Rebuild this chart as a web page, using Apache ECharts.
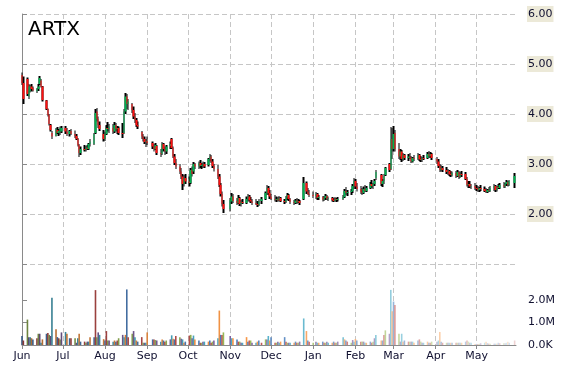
<!DOCTYPE html>
<html><head><meta charset="utf-8">
<script src="https://cdn.jsdelivr.net/npm/echarts@6.0.0/dist/echarts.min.js"></script>
<style>html,body{margin:0;padding:0;background:#fff}#c{width:570px;height:370px}</style>
</head><body><div id="c"></div>
<script>
const title = 'ARTX';
const monthLabels = ['Jun','Jul','Aug','Sep','Oct','Nov','Dec','Jan','Feb','Mar','Apr','May'];
const monthStarts = ['2012-06-01','2012-07-01','2012-08-01','2012-09-01','2012-10-01','2012-11-01','2012-12-01','2013-01-01','2013-02-01','2013-03-01','2013-04-01','2013-05-01'];
const priceLabels = [2,3,4,5,6];
const volumeLabels = [0,1000000,2000000];
// trading sessions: [year-month, days]
const sessionMonths = ['2012-05','2012-06','2012-07','2012-08','2012-09','2012-10','2012-11','2012-12','2013-01','2013-02','2013-03','2013-04','2013-05'];
const sessionDays = [
 [31],
 [1,4,5,6,7,8,11,12,13,14,15,18,19,20,21,22,25,26,27,28,29],
 [2,3,5,6,9,10,11,12,13,16,17,18,19,20,23,24,25,26,27,30,31],
 [1,2,3,6,7,8,9,10,13,14,15,16,17,20,21,22,23,24,27,28,29,30,31],
 [4,5,6,7,10,11,12,13,14,17,18,19,20,21,24,25,26,27,28],
 [1,2,3,4,5,8,9,10,11,12,15,16,17,18,19,22,23,24,25,26,31],
 [1,2,5,6,7,8,9,12,13,14,15,16,19,20,21,23,26,27,28,29,30],
 [3,4,5,6,7,10,11,12,13,14,17,18,19,20,21,24,26,27,28,31],
 [2,3,4,7,8,9,10,11,14,15,16,17,18,22,23,24,25,28,29,30,31],
 [1,4,5,6,7,8,11,12,13,14,15,19,20,21,22,25,26,27,28],
 [1,4,5,6,7,8,11,12,13,14,15,18,19,20,21,22,25,26,27,28],
 [1,2,3,4,5,8,9,10,11,12,15,16,17,18,19,22,23,24,25,26,29,30],
 [1,2,3,6,7,8,9,10,13,14,15,16,17,20,21,22,23,24,28]
];
const open = [
 4.78,4.62,4.70,4.35,4.45,4.55,4.52,4.45,4.50,4.60,4.67,4.55,4.27,4.10,3.98,3.78,3.62,3.56,3.68,3.62,3.65,3.65,
 3.72,3.65,3.60,3.66,3.60,3.56,3.50,3.38,3.22,3.30,3.28,3.33,3.30,3.40,3.40,3.62,4.05,3.90,3.78,3.60,3.50,
 3.60,3.72,3.70,3.72,3.65,3.78,3.70,3.72,3.62,3.62,4.05,4.35,4.20,4.20,4.08,3.95,3.88,3.78,3.64,3.55,3.50,3.44,3.46,
 3.42,3.35,3.30,3.36,3.22,3.20,3.40,3.30,3.25,3.36,3.50,3.32,3.15,3.02,2.95,2.85,2.75,2.60,2.72,
 2.65,2.62,2.88,2.85,3.00,2.95,3.02,2.96,2.98,3.00,2.98,3.10,3.15,3.05,2.96,2.90,2.75,2.58,2.40,2.20,2.10,
 2.25,2.35,2.26,2.22,2.32,2.20,2.24,2.22,2.30,2.35,2.28,2.25,2.22,2.20,2.18,2.26,2.30,2.42,2.52,2.42,2.35,
 2.30,2.28,2.30,2.27,2.32,2.26,2.24,2.33,2.38,2.30,2.24,2.22,2.27,2.24,2.26,2.30,2.62,2.45,2.40,2.38,
 2.36,2.40,2.32,2.34,2.28,2.32,2.36,2.30,2.32,2.28,2.26,2.30,2.28,2.30,2.34,2.46,2.42,2.44,2.46,2.56,2.66,
 2.55,2.50,2.44,2.42,2.50,2.46,2.52,2.60,2.56,2.60,2.72,2.78,2.60,2.66,2.78,3.00,2.90,3.50,3.30,
 3.62,3.30,3.15,3.25,3.10,3.18,3.12,3.15,3.12,3.05,3.12,3.10,3.18,3.10,3.08,3.12,3.12,3.20,3.16,3.20,
 3.10,3.05,2.96,2.88,2.92,2.88,2.84,2.86,2.80,2.78,2.82,2.76,2.84,2.74,2.80,2.80,2.70,2.58,2.60,2.55,2.56,2.52,
 2.50,2.48,2.52,2.50,2.46,2.44,2.48,2.46,2.52,2.56,2.48,2.54,2.52,2.58,2.55,2.60,2.64,2.58,2.62
];
const high = [
 4.83,4.75,4.73,4.60,4.58,4.60,4.55,4.52,4.60,4.76,4.70,4.56,4.28,4.11,4.00,3.80,3.66,3.72,3.74,3.70,3.75,3.76,
 3.76,3.72,3.68,3.70,3.67,3.60,3.52,3.40,3.35,3.38,3.36,3.38,3.42,3.50,3.62,4.10,4.12,3.95,3.85,3.68,3.65,
 3.78,3.84,3.80,3.80,3.84,3.82,3.76,3.75,3.82,4.10,4.42,4.40,4.30,4.22,4.15,4.02,3.92,3.85,3.66,3.60,3.55,3.50,3.55,
 3.45,3.40,3.42,3.38,3.30,3.44,3.42,3.35,3.38,3.45,3.52,3.35,3.20,3.10,3.00,2.92,2.80,2.78,2.80,
 2.75,2.92,2.95,3.04,3.02,3.05,3.08,3.02,3.05,3.04,3.12,3.20,3.18,3.10,3.00,2.98,2.80,2.62,2.45,2.28,2.32,
 2.42,2.40,2.32,2.38,2.34,2.28,2.30,2.35,2.40,2.38,2.34,2.30,2.30,2.26,2.30,2.34,2.45,2.58,2.56,2.48,2.40,
 2.38,2.35,2.34,2.36,2.34,2.30,2.36,2.42,2.40,2.32,2.28,2.30,2.32,2.30,2.28,2.74,2.65,2.52,2.48,2.45,
 2.44,2.42,2.38,2.36,2.36,2.40,2.38,2.35,2.34,2.32,2.34,2.32,2.34,2.38,2.50,2.54,2.48,2.50,2.60,2.72,2.70,
 2.62,2.56,2.52,2.55,2.58,2.56,2.64,2.68,2.62,2.70,2.88,2.80,2.70,2.80,2.94,3.02,3.74,3.72,3.76,
 3.68,3.42,3.30,3.28,3.22,3.20,3.20,3.22,3.16,3.14,3.18,3.22,3.20,3.16,3.14,3.18,3.24,3.26,3.24,3.22,
 3.14,3.10,3.00,2.98,2.96,2.94,2.90,2.88,2.86,2.85,2.86,2.88,2.86,2.84,2.86,2.84,2.74,2.66,2.66,2.60,2.62,2.58,
 2.56,2.54,2.58,2.55,2.52,2.50,2.54,2.56,2.60,2.58,2.56,2.60,2.62,2.64,2.62,2.68,2.66,2.68,2.82
];
const low = [
 4.58,4.20,4.36,4.30,4.43,4.45,4.45,4.42,4.46,4.58,4.53,4.25,4.08,3.95,3.77,3.65,3.50,3.55,3.60,3.56,3.58,3.62,
 3.60,3.56,3.55,3.58,3.52,3.48,3.35,3.14,3.18,3.25,3.25,3.28,3.28,3.35,3.38,3.60,3.85,3.72,3.66,3.45,3.46,
 3.58,3.65,3.62,3.60,3.62,3.65,3.60,3.58,3.52,3.60,4.00,4.10,4.08,4.02,3.90,3.82,3.74,3.70,3.50,3.45,3.40,3.34,3.38,
 3.30,3.25,3.28,3.18,3.14,3.18,3.25,3.18,3.20,3.30,3.30,3.12,2.98,2.90,2.80,2.70,2.48,2.55,2.60,
 2.55,2.60,2.75,2.80,2.90,2.90,2.92,2.90,2.92,2.92,2.95,3.05,3.02,2.92,2.85,2.70,2.54,2.35,2.15,2.02,2.05,
 2.20,2.22,2.18,2.20,2.16,2.15,2.20,2.20,2.25,2.25,2.22,2.18,2.18,2.14,2.16,2.20,2.28,2.38,2.38,2.30,2.28,
 2.25,2.24,2.25,2.25,2.24,2.20,2.22,2.28,2.26,2.20,2.18,2.20,2.20,2.22,2.18,2.28,2.40,2.38,2.34,2.32,
 2.30,2.28,2.28,2.25,2.26,2.28,2.28,2.26,2.25,2.24,2.25,2.24,2.25,2.28,2.32,2.38,2.36,2.38,2.42,2.50,2.50,
 2.45,2.40,2.38,2.40,2.44,2.44,2.50,2.52,2.50,2.56,2.68,2.56,2.54,2.60,2.76,2.84,2.88,3.10,3.25,
 3.25,3.10,3.08,3.04,3.06,3.08,3.06,3.10,3.02,3.03,3.06,3.08,3.06,3.04,3.04,3.08,3.10,3.12,3.12,3.08,
 3.00,2.92,2.84,2.85,2.84,2.80,2.78,2.76,2.74,2.75,2.72,2.74,2.70,2.72,2.74,2.68,2.55,2.52,2.52,2.50,2.48,2.46,
 2.44,2.44,2.46,2.44,2.42,2.42,2.44,2.44,2.46,2.44,2.45,2.50,2.50,2.52,2.52,2.56,2.55,2.56,2.52
];
const close = [
 4.62,4.30,4.40,4.55,4.56,4.50,4.47,4.50,4.55,4.72,4.55,4.28,4.10,3.98,3.80,3.68,3.55,3.70,3.62,3.66,3.72,3.72,
 3.65,3.60,3.66,3.60,3.56,3.50,3.38,3.22,3.30,3.28,3.33,3.30,3.40,3.45,3.60,4.02,3.90,3.78,3.70,3.50,3.60,
 3.72,3.70,3.75,3.65,3.78,3.70,3.72,3.62,3.60,4.05,4.35,4.20,4.25,4.08,3.95,3.88,3.78,3.75,3.55,3.50,3.44,3.46,3.42,
 3.35,3.30,3.38,3.22,3.20,3.40,3.30,3.25,3.35,3.40,3.32,3.15,3.02,2.95,2.85,2.75,2.60,2.72,2.65,
 2.62,2.88,2.80,3.00,2.95,3.02,2.96,2.98,3.00,2.95,3.10,3.15,3.05,2.96,2.90,2.75,2.58,2.40,2.20,2.10,2.28,
 2.35,2.26,2.22,2.32,2.20,2.24,2.22,2.30,2.35,2.28,2.25,2.22,2.20,2.18,2.26,2.30,2.42,2.52,2.42,2.35,2.30,
 2.28,2.30,2.27,2.32,2.26,2.24,2.33,2.38,2.30,2.24,2.22,2.27,2.24,2.26,2.22,2.62,2.45,2.40,2.38,2.36,
 2.40,2.32,2.34,2.28,2.32,2.36,2.30,2.32,2.28,2.26,2.30,2.28,2.30,2.34,2.46,2.42,2.44,2.46,2.56,2.66,2.55,
 2.50,2.44,2.42,2.50,2.46,2.52,2.60,2.56,2.60,2.66,2.84,2.60,2.66,2.76,2.92,2.88,3.50,3.30,3.60,
 3.30,3.15,3.25,3.10,3.18,3.12,3.15,3.12,3.05,3.12,3.10,3.18,3.10,3.08,3.12,3.10,3.20,3.16,3.20,3.12,
 3.05,2.96,2.88,2.92,2.88,2.84,2.86,2.80,2.78,2.82,2.76,2.84,2.74,2.80,2.78,2.70,2.58,2.60,2.55,2.56,2.52,2.50,
 2.48,2.52,2.50,2.46,2.44,2.48,2.46,2.52,2.56,2.48,2.54,2.52,2.58,2.55,2.60,2.64,2.58,2.66,2.76
];
// volume, thousands of shares
const volume = [
 400,200,1130,350,350,300,250,300,500,500,100,250,500,530,450,400,2100,700,350,300,250,560,
 580,500,300,300,300,100,300,500,150,150,100,150,150,350,350,2440,350,560,450,260,200,
 620,200,200,150,200,150,200,300,450,350,450,2470,350,500,620,350,200,150,350,100,100,100,560,
 250,250,220,200,150,250,200,150,200,250,430,280,250,400,350,280,250,100,150,
 420,450,300,420,250,200,100,100,150,150,150,200,100,150,200,300,1530,450,450,560,400,
 300,300,250,150,150,100,100,350,150,200,200,100,100,150,200,100,250,250,400,200,350,
 100,100,150,100,150,350,150,100,100,100,100,150,100,100,150,1180,620,200,150,100,
 150,100,100,150,100,100,150,100,100,150,100,100,150,350,250,200,150,100,220,150,270,
 200,150,150,150,100,100,150,100,150,300,450,200,200,450,650,500,2450,1500,1930,
 1780,500,150,500,150,200,150,150,150,150,100,200,250,150,100,100,150,100,100,150,
 150,200,580,150,100,100,100,100,100,100,100,100,100,100,100,150,200,150,100,100,50,50,
 50,50,80,100,150,80,60,60,60,60,60,100,80,80,80,100,150,100,200
];

const DAY = 86400000;
const ORIGIN = Date.UTC(2012, 5, 1);
function dayIndex(y, m, d) { return (Date.UTC(y, m - 1, d) - ORIGIN) / DAY; }
const monthOffsets = monthStarts.map(s => { const p = s.split('-').map(Number); return dayIndex(p[0], p[1], p[2]); });
// each session is plotted at the close of its day
const sessionX = [];
sessionMonths.forEach((ym, k) => {
  const p = ym.split('-').map(Number);
  sessionDays[k].forEach(d => sessionX.push(dayIndex(p[0], p[1], d) + 1));
});
const xMax = dayIndex(2013, 5, 30);

const rangeData = sessionX.map((x, i) => [x, low[i], high[i], low[i], high[i]]);
const bodyData = sessionX.map((x, i) => [x, open[i], close[i], Math.min(open[i], close[i]), Math.max(open[i], close[i])]);

const volPalette = ['#4f81bd', '#c0504d', '#9bbb59', '#8064a2', '#4bacc6', '#f79646'];
function shade(hex, t) {
  const r = parseInt(hex.slice(1, 3), 16), g = parseInt(hex.slice(3, 5), 16), b = parseInt(hex.slice(5, 7), 16);
  let rr, gg, bb;
  if (t < 0.45) { const k = (0.45 - t) / 0.45 * 0.3; rr = r * (1 - k); gg = g * (1 - k); bb = b * (1 - k); }
  else { const k = (t - 0.45) / 0.55 * 0.75; rr = r + (255 - r) * k; gg = g + (255 - g) * k; bb = b + (255 - b) * k; }
  return 'rgb(' + Math.round(rr) + ',' + Math.round(gg) + ',' + Math.round(bb) + ')';
}
const n = sessionX.length;
const volData = sessionX.map((x, i) => ({ value: [x, volume[i] * 1000], itemStyle: { color: shade(volPalette[i % volPalette.length], i / (n - 1)) } }));

const FONT = 'DejaVu Sans';
const gridLine = { show: true, lineStyle: { color: '#c6c6c6', type: [5, 3], width: 1 } };
const axisGray = '#8a8a8a';
const GL = 22, GR = 54;

const chart = echarts.init(document.getElementById('c'), null, { renderer: 'canvas' });
chart.setOption({
  animation: false,
  backgroundColor: '#ffffff',
  title: { text: title, left: 23, top: 15, textStyle: { fontFamily: FONT, fontSize: 20, fontWeight: 'normal', color: '#000' } },
  grid: [
    { left: GL, right: GR, top: 14, height: 250 },
    { left: GL, right: GR, top: 264, height: 81 }
  ],
  xAxis: [
    { type: 'value', gridIndex: 0, min: 0, max: xMax,
      axisLine: { show: false }, axisLabel: { show: false },
      axisTick: { show: false, customValues: monthOffsets },
      splitLine: gridLine },
    { type: 'value', gridIndex: 1, min: 0, max: xMax,
      axisLine: { show: true, lineStyle: { color: axisGray, width: 1 } },
      axisTick: { show: true, length: 4, lineStyle: { color: axisGray }, customValues: monthOffsets },
      axisLabel: { customValues: monthOffsets, margin: 6, fontFamily: FONT, fontSize: 11, color: '#101030',
        formatter: v => monthLabels[monthOffsets.indexOf(Math.round(v))] || '' },
      splitLine: gridLine }
  ],
  yAxis: [
    { type: 'value', gridIndex: 0, position: 'right', min: 1, max: 6, interval: 1,
      axisLine: { show: true, lineStyle: { color: axisGray } },
      axisTick: { show: true, length: 5, lineStyle: { color: axisGray } },
      axisLabel: { customValues: priceLabels, margin: 11, fontFamily: FONT, fontSize: 11, color: '#101030',
        backgroundColor: '#ece9d8', padding: [3, 1, 2, 1], formatter: v => v.toFixed(2) },
      splitLine: gridLine },
    { type: 'value', gridIndex: 1, position: 'right', min: 0, max: 3600000,
      axisLine: { show: true, lineStyle: { color: axisGray } },
      axisTick: { show: true, length: 5, lineStyle: { color: axisGray }, customValues: volumeLabels },
      axisLabel: { customValues: volumeLabels, margin: 12, fontFamily: FONT, fontSize: 11, color: '#101030',
        formatter: v => v === 0 ? '0.0K' : (v / 1000000).toFixed(1) + 'M' },
      splitLine: { show: false } }
  ],
  series: [
    { type: 'bar', xAxisIndex: 1, yAxisIndex: 1, barWidth: 1.6, data: volData },
    { type: 'candlestick', xAxisIndex: 0, yAxisIndex: 0, barWidth: 2, encode: { x: 0, y: [1, 2, 3, 4] },
      itemStyle: { color: '#000', color0: '#000', borderColor: '#000', borderColor0: '#000', borderWidth: 0 },
      data: rangeData },
    { type: 'candlestick', xAxisIndex: 0, yAxisIndex: 0, barWidth: 2, encode: { x: 0, y: [1, 2, 3, 4] },
      itemStyle: { color: '#00b050', color0: '#ff1010', borderColor: '#00b050', borderColor0: '#ff1010', borderWidth: 0 },
      data: bodyData }
  ]
});
</script></body></html>
